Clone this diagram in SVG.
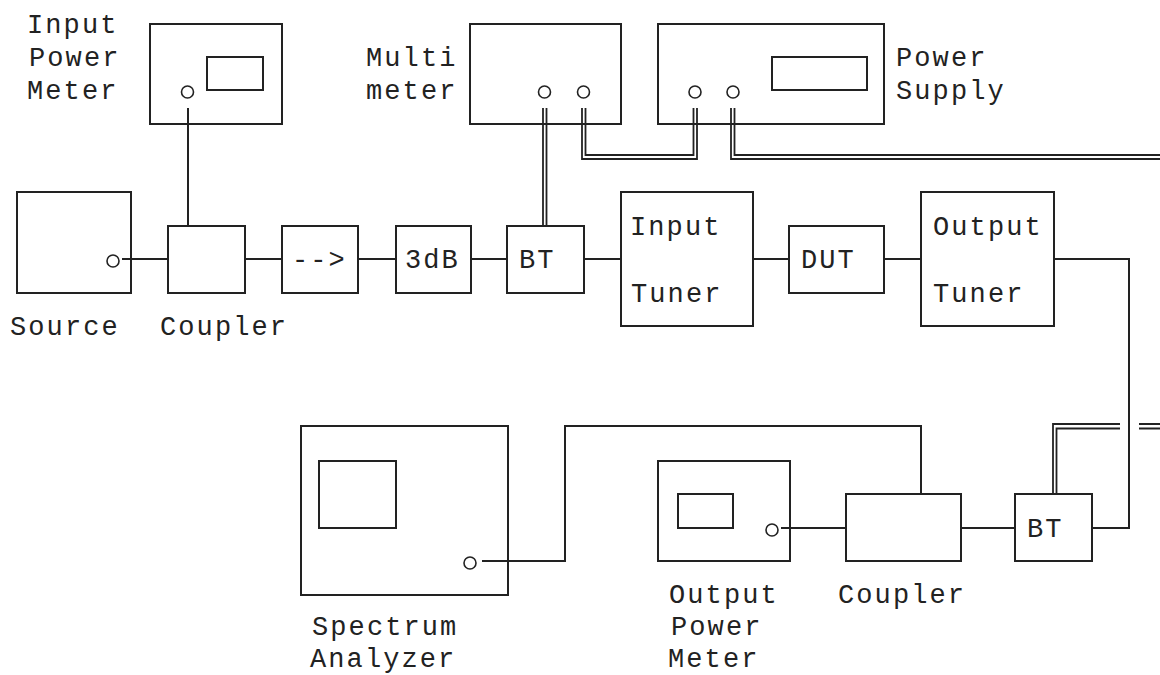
<svg xmlns="http://www.w3.org/2000/svg" width="1160" height="675" viewBox="0 0 1160 675">
<style>
rect,circle,path{fill:none;stroke:#222;stroke-width:2}
circle{stroke-width:1.6}
.d{stroke-width:1.8}
text{font-family:"Liberation Mono","DejaVu Sans Mono",monospace;font-size:27px;letter-spacing:2.1px;fill:#222}
</style>
<rect x="0" y="0" width="1160" height="675" style="fill:#fff;stroke:none"/>
<g id="connectors">
<path d="M188 108V226M122 259H168M245 259H282M358 259H396M471 259H507M584 259H621M753 259H789M884 259H921M1054 259H1129V528H1092M961 528H1015M781 528H846M921 494V426H565V561H482"/>
<path class="d" d="M543 108V226M546.500 108V226M582 108V159H697V108M585.500 108V155H693.500V108M731 108V159H1160M734.500 108V155H1160M1053 494V424H1120M1056.500 494V428.500H1120M1139 424H1160M1139 428.500H1160"/>
</g>
<g id="input-power-meter"><rect x="150" y="24" width="132" height="100"/><rect x="207" y="57" width="56" height="33"/><circle cx="187.500" cy="92" r="6"/>
<text x="27" y="33">Input</text><text x="29" y="66">Power</text><text x="27" y="99">Meter</text></g>
<g id="multimeter"><rect x="470" y="24" width="151" height="100"/><circle cx="544.500" cy="92" r="6"/><circle cx="583.500" cy="92" r="6"/>
<text x="366" y="66">Multi</text><text x="366" y="99">meter</text></g>
<g id="power-supply"><rect x="658" y="24" width="226" height="100"/><rect x="772" y="57" width="95" height="33"/><circle cx="695" cy="92" r="6"/><circle cx="733" cy="92" r="6"/>
<text x="896" y="66">Power</text><text x="896" y="99">Supply</text></g>
<g id="source"><rect x="17" y="192" width="114" height="101"/><circle cx="113" cy="261" r="6"/><text x="10" y="335">Source</text></g>
<g id="coupler-in"><rect x="168" y="226" width="77" height="67"/><text x="160" y="335">Coupler</text></g>
<g id="isolator"><rect x="282" y="226" width="76" height="67"/><text x="292" y="268">--&gt;</text></g>
<g id="attenuator"><rect x="396" y="226" width="75" height="67"/><text x="405" y="268">3dB</text></g>
<g id="bt-in"><rect x="507" y="226" width="77" height="67"/><text x="519" y="268">BT</text></g>
<g id="input-tuner"><rect x="621" y="192" width="132" height="134"/><text x="630" y="235">Input</text><text x="631" y="302">Tuner</text></g>
<g id="dut"><rect x="789" y="226" width="95" height="67"/><text x="801" y="268">DUT</text></g>
<g id="output-tuner"><rect x="921" y="192" width="133" height="134"/><text x="933" y="235">Output</text><text x="933" y="302">Tuner</text></g>
<g id="spectrum-analyzer"><rect x="301" y="426" width="207" height="169"/><rect x="319" y="461" width="77" height="67"/><circle cx="470" cy="563" r="6"/><text x="312" y="635">Spectrum</text><text x="310" y="667">Analyzer</text></g>
<g id="output-power-meter"><rect x="658" y="461" width="132" height="100"/><rect x="678" y="494" width="55" height="34"/><circle cx="772" cy="530" r="6"/><text x="669" y="603">Output</text><text x="671" y="635">Power</text><text x="668" y="667">Meter</text></g>
<g id="coupler-out"><rect x="846" y="494" width="115" height="67"/><text x="838" y="603">Coupler</text></g>
<g id="bt-out"><rect x="1015" y="494" width="77" height="67"/><text x="1027" y="537">BT</text></g>
</svg>
